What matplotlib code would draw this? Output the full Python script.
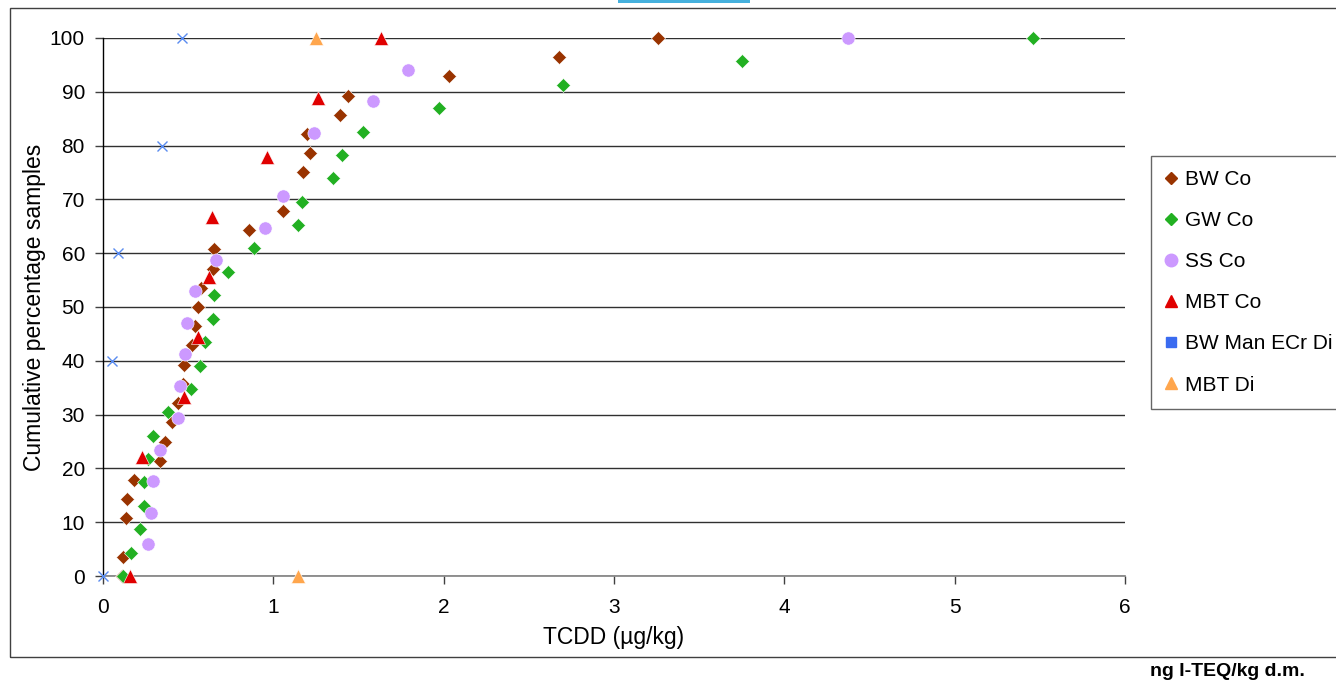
import matplotlib
matplotlib.use("Agg")
import matplotlib.pyplot as plt
from matplotlib.lines import Line2D
from matplotlib.patches import Rectangle

plt.rcParams['font.family'] = ['Liberation Sans', 'DejaVu Sans']

# ---- data ----
bw_x = [0.11, 0.115, 0.133, 0.139, 0.182, 0.336, 0.362, 0.407, 0.438, 0.47, 0.476, 0.52, 0.54,
        0.56, 0.575, 0.644, 0.652, 0.857, 1.057, 1.174, 1.213, 1.20, 1.393, 1.44, 2.03, 2.68, 3.258]
bw_y = [0.0, 3.6, 10.7, 14.3, 17.9, 21.4, 25.0, 28.6, 32.1, 35.7, 39.3, 42.9, 46.4,
        50.0, 53.6, 57.1, 60.7, 64.3, 67.9, 75.0, 78.6, 82.1, 85.7, 89.3, 92.9, 96.4, 100.0]

gw_x = [0.117, 0.164, 0.217, 0.241, 0.243, 0.266, 0.296, 0.384, 0.517, 0.571, 0.599, 0.646,
        0.65, 0.732, 0.885, 1.145, 1.168, 1.35, 1.403, 1.526, 1.97, 2.70, 3.75, 5.46]
gw_y = [0.0, 4.3, 8.7, 13.0, 17.4, 21.7, 26.1, 30.4, 34.8, 39.1, 43.5, 47.8,
        52.2, 56.5, 60.9, 65.2, 69.6, 73.9, 78.3, 82.6, 87.0, 91.3, 95.7, 100.0]

ss_x = [0.264, 0.284, 0.294, 0.333, 0.44, 0.454, 0.481, 0.491, 0.542, 0.663, 0.953, 1.058,
        1.24, 1.583, 1.79, 4.374]
ss_y = [5.9, 11.8, 17.6, 23.5, 29.4, 35.3, 41.2, 47.1, 52.9, 58.8, 64.7, 70.6,
        82.4, 88.2, 94.1, 100.0]

mbt_x = [0.16, 0.231, 0.474, 0.56, 0.622, 0.642, 0.961, 1.264, 1.632]
mbt_y = [0.0, 22.2, 33.3, 44.4, 55.6, 66.7, 77.8, 88.9, 100.0]

bwm_x = [0.0, 0.051, 0.09, 0.344, 0.464]
bwm_y = [0.0, 40.0, 60.0, 80.0, 100.0]

mbtdi_x = [1.145, 1.25]
mbtdi_y = [0.0, 100.0]

labels = ["BW Co", "GW Co", "SS Co", "MBT Co", "BW Man ECr Di", "MBT Di"]
x_ticks = [0, 1, 2, 3, 4, 5, 6]
y_ticks = [0, 10, 20, 30, 40, 50, 60, 70, 80, 90, 100]

# ---- figure ----
W, H = 1336, 684
fig = plt.figure(figsize=(W / 100, H / 100), dpi=100)

# outer chart frame
fig.patches.append(Rectangle((10 / W, 1 - 657 / H), 1.2, (657 - 8) / H, transform=fig.transFigure,
                             fill=False, edgecolor='#404040', linewidth=1.0, zorder=0))
# blue bar at top
fig.patches.append(Rectangle((618 / W, 1 - 3 / H), (750 - 618) / W, 3 / H, transform=fig.transFigure,
                             facecolor='#45B0DD', edgecolor='none', zorder=1))

ax = fig.add_axes([103 / W, 1 - 576 / H, (1125 - 103) / W, (576 - 38) / H])
ax.set_xlim(0, 6)
ax.set_ylim(0, 100)
ax.set_xticks(x_ticks)
ax.set_yticks(y_ticks)
ax.tick_params(axis='both', labelsize=15, length=6, width=1, color='#404040', pad=7)
ax.tick_params(axis='x', pad=10)
for s in ['top', 'right']:
    ax.spines[s].set_visible(False)
ax.spines['left'].set_color('black')
ax.spines['left'].set_linewidth(1.0)
ax.spines['bottom'].set_color('#808080')
ax.spines['bottom'].set_linewidth(1.2)
ax.yaxis.grid(True, color='#303030', linewidth=1.0)
ax.set_axisbelow(True)

common = dict(linestyle='none', clip_on=False, markeredgecolor='white', markeredgewidth=0.4, zorder=3)
ax.plot(bw_x, bw_y, marker='D', color='#993300', markersize=7.5, **common)
ax.plot(gw_x, gw_y, marker='D', color='#22B022', markersize=7.5, **common)
ax.plot(ss_x, ss_y, marker='o', color='#CC99FF', markersize=9.5, **common)
ax.plot(mbt_x, mbt_y, marker='^', color='#E00000', markersize=10, **common)
ax.plot(bwm_x, bwm_y, marker='x', color='#5A8CF0', markersize=6.5, markeredgewidth=1.0,
        linestyle='none', clip_on=False, zorder=3)
ax.plot(mbtdi_x, mbtdi_y, marker='^', color='#FFA64D', markersize=10, **common)

ax.set_xlabel("TCDD (µg/kg)", fontsize=16.5, labelpad=6)
ax.set_ylabel("Cumulative percentage samples", fontsize=16.5, labelpad=3)

handles = [
    Line2D([], [], linestyle='none', marker='D', color='#993300', markersize=6.5),
    Line2D([], [], linestyle='none', marker='D', color='#22B022', markersize=6.5),
    Line2D([], [], linestyle='none', marker='o', color='#CC99FF', markersize=9),
    Line2D([], [], linestyle='none', marker='^', color='#E00000', markersize=9),
    Line2D([], [], linestyle='none', marker='s', color='#3A6BF0', markersize=6.5),
    Line2D([], [], linestyle='none', marker='^', color='#FFA64D', markersize=9),
]
leg = fig.legend(handles, labels, loc='upper left', bbox_to_anchor=(1151 / W, 1 - 156 / H),
                 bbox_transform=fig.transFigure, fontsize=15, frameon=True, fancybox=False,
                 edgecolor='#404040', borderaxespad=0, handlelength=0.6, handletextpad=0.35,
                 labelspacing=1.06, borderpad=0.68)
leg.get_frame().set_linewidth(1.0)

fig.text(1305 / W, 1 - 672 / H, "ng I-TEQ/kg d.m.", ha='right', va='center', fontsize=14,
         fontweight='bold')

fig.savefig("out.png", dpi=100)
